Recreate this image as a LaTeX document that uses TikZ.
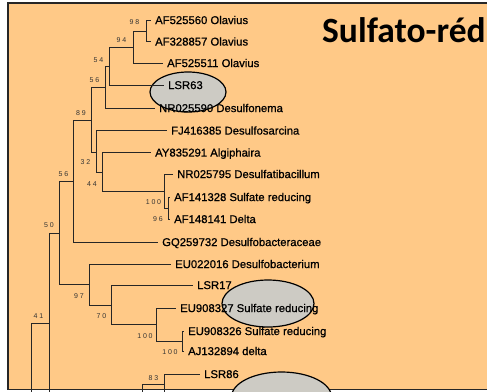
\documentclass[tikz,border=0pt]{standalone}
\usepackage{fontspec}
\setmainfont{Liberation Sans}
\newfontfamily\titlefont{Carlito}
\newfontfamily\leaffont[FakeBold=0.8]{Liberation Sans}
\newfontfamily\bsfont[LetterSpace=25]{Liberation Sans}
\definecolor{bgor}{HTML}{FFC987}
\definecolor{ellg}{HTML}{CDCBC4}
\begin{document}
\begin{tikzpicture}[x=1pt,y=-1pt,
  br/.style={draw=black!85, line width=0.8pt},
  leaf/.style={anchor=west, inner xsep=4pt, inner ysep=0pt, text height=8.1pt, text depth=0pt, font=\leaffont\fontsize{11.3}{12}\selectfont},
  bs/.style={font=\bsfont\fontsize{7}{7}\selectfont, inner sep=0pt, text=black!80},
  hl/.style={draw=black, line width=1.2pt, fill=ellg}]
\useasboundingbox (0,0) rectangle (487,391);
\clip (0,0) rectangle (487,391);
\fill[white] (0,0) rectangle (487,391);
\draw[fill=bgor, line width=1.5pt, draw=black!85] (8,3) rectangle (500,389.5);
% highlight ellipses
\path[hl] (188,92) ellipse [x radius=38, y radius=20];
\path[hl] (268,303.5) ellipse [x radius=46, y radius=23.5];
\path[hl] (281.5,397) ellipse [x radius=50, y radius=25];
% title
\node[anchor=base west, inner sep=0pt, font=\titlefont\bfseries\fontsize{35.5}{40}\selectfont] (title) at (322,42) {Sulfato-réd};
% internal nodes
\coordinate (n98) at (146,31);
\coordinate (n94) at (133,47);
\coordinate (n54) at (109,66);
\coordinate (n56a) at (105,87);
\coordinate (n89) at (91,120);
\coordinate (n32) at (96,152);
\coordinate (n44) at (102,172);
\coordinate (n100a) at (164,191);
\coordinate (n96) at (168,208);
\coordinate (n56b) at (73,181);
\coordinate (n50) at (59,233);
\coordinate (n97) at (89,284.5);
\coordinate (n70) at (111,305);
\coordinate (n100b) at (156,324.5);
\coordinate (n100c) at (182,341.5);
\coordinate (n41) at (49,323);
\coordinate (root) at (31,421);
\coordinate (nlow) at (120,413);
\coordinate (n142) at (142,400);
\coordinate (n83) at (164,384);
\coordinate (hid1) at (60,520);
\coordinate (hid2) at (130,430);
\coordinate (hid3) at (200,416);
\coordinate (hid4) at (180,394);
% leaves
\node[leaf] (l1) at (151,20) {AF525560 Olavius};
\node[leaf] (l2) at (151,41.5) {AF328857 Olavius};
\node[leaf] (l3) at (163,63) {AF525511 Olavius};
\node[leaf] (l4) at (164,85) {LSR63};
\node[leaf] (l5) at (155,108) {NR025590 Desulfonema};
\node[leaf] (l6) at (167,130.5) {FJ416385 Desulfosarcina};
\node[leaf] (l7) at (151,152.5) {AY835291 Algiphaira};
\node[leaf] (l8) at (173,174) {NR025795 Desulfatibacillum};
\node[leaf] (l9) at (170,197) {AF141328 Sulfate reducing};
\node[leaf] (l10) at (170,219) {AF148141 Delta};
\node[leaf] (l11) at (158,242) {GQ259732 Desulfobacteraceae};
\node[leaf] (l12) at (171,264) {EU022016 Desulfobacterium};
\node[leaf] (l13) at (193,285) {LSR17};
\node[leaf] (l14) at (176,308) {EU908327 Sulfate reducing};
\node[leaf] (l15) at (184,331) {EU908326 Sulfate reducing};
\node[leaf] (l16) at (184,351) {AJ132894 delta};
\node[leaf] (l17) at (200,374) {LSR86};
% branches
\draw[br] (n98) |- (l1.west);
\draw[br] (n98) |- (l2.west);
\draw[br] (n94) |- (n98);
\draw[br] (n94) |- (l3.west);
\draw[br] (n54) |- (n94);
\draw[br] (n54) |- (l4.west);
\draw[br] (n56a) |- (n54);
\draw[br] (n56a) |- (l5.west);
\draw[br] (n89) |- (n56a);
\draw[br] (n89) |- (n32);
\draw[br] (n32) |- (l6.west);
\draw[br] (n32) |- (n44);
\draw[br] (n44) |- (l7.west);
\draw[br] (n44) |- (n100a);
\draw[br] (n100a) |- (l8.west);
\draw[br] (n100a) |- (n96);
\draw[br] (n96) |- (l9.west);
\draw[br] (n96) |- (l10.west);
\draw[br] (n56b) |- (n89);
\draw[br] (n56b) |- (l11.west);
\draw[br] (n50) |- (n56b);
\draw[br] (n50) |- (n97);
\draw[br] (n97) |- (l12.west);
\draw[br] (n97) |- (n70);
\draw[br] (n70) |- (l13.west);
\draw[br] (n70) |- (n100b);
\draw[br] (n100b) |- (l14.west);
\draw[br] (n100b) |- (n100c);
\draw[br] (n100c) |- (l15.west);
\draw[br] (n100c) |- (l16.west);
\draw[br] (n41) |- (n50);
\draw[br] (n41) |- (nlow);
\draw[br] (root) |- (n41);
\draw[br] (root) |- (hid1);
\draw[br] (nlow) |- (n142);
\draw[br] (nlow) |- (hid2);
\draw[br] (n142) |- (n83);
\draw[br] (n142) |- (hid3);
\draw[br] (n83) |- (l17.west);
\draw[br] (n83) |- (hid4);
% bootstrap values
\node[bs] (b98) at (134.5,22.5) {98};
\node[bs] (b94) at (121.5,40) {94};
\node[bs] (b54) at (98.5,60) {54};
\node[bs] (b56a) at (94.5,80) {56};
\node[bs] (b89) at (81,113) {89};
\node[bs] (b32) at (85.5,162) {32};
\node[bs] (b44) at (92,184) {44};
\node[bs] (b100a) at (153.5,202) {100};
\node[bs] (b96) at (158,219.5) {96};
\node[bs] (b56b) at (63.5,174) {56};
\node[bs] (b50) at (49,225) {50};
\node[bs] (b41) at (38.5,316) {41};
\node[bs] (b97) at (79,296) {97};
\node[bs] (b70) at (101.5,316.5) {70};
\node[bs] (b100b) at (145,336.5) {100};
\node[bs] (b100c) at (170,352) {100};
\node[bs] (b83) at (153.5,378.5) {83};
\end{tikzpicture}
\end{document}
